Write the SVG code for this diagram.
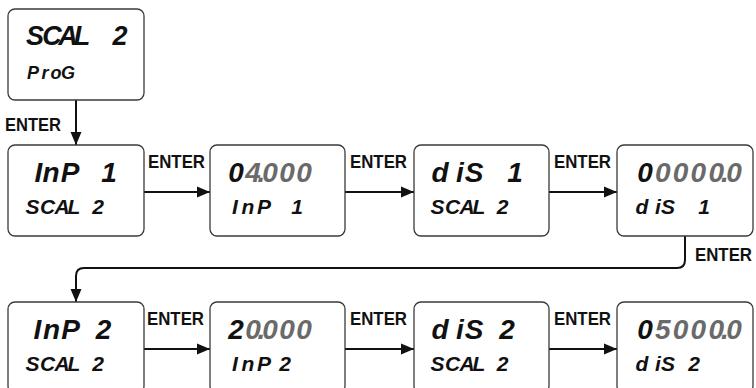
<svg xmlns="http://www.w3.org/2000/svg" width="756" height="388" viewBox="0 0 756 388">
<defs>
<style>
.box{fill:#fff;stroke:#3a3a3a;stroke-width:1.3}
.lcd{font-family:"Liberation Sans",Arial,sans-serif;font-weight:bold;font-style:italic;text-anchor:middle;fill:#111}
.l1{font-size:28px}
.l2{font-size:21px}
.g{fill:#6a6a6a}
.enter{font-family:"Liberation Sans",Arial,sans-serif;font-weight:bold;font-size:18px;fill:#111}
.conn{fill:none;stroke:#111;stroke-width:2;marker-end:url(#ah)}
</style>
<marker id="ah" markerUnits="userSpaceOnUse" markerWidth="14" markerHeight="12" refX="13" refY="6" orient="auto">
<path d="M0,0.5 L13,6 L0,11.5 z" fill="#111"/>
</marker>
</defs>
<rect width="756" height="388" fill="#fff"/>

<g id="connectors">
<path class="conn" d="M76 100 V145"/>
<path class="conn" d="M144 192 H210"/>
<path class="conn" d="M345 192 H414"/>
<path class="conn" d="M549 192 H617"/>
<path class="conn" d="M685 236 V260 Q685 268 677 268 H84 Q76 268 76 276 V302"/>
<path class="conn" d="M144 349 H210"/>
<path class="conn" d="M345 349 H414"/>
<path class="conn" d="M549 349 H617"/>
<text class="enter" x="5" y="131" textLength="56" lengthAdjust="spacingAndGlyphs">ENTER</text>
<text class="enter" x="148" y="168" textLength="57" lengthAdjust="spacingAndGlyphs">ENTER</text>
<text class="enter" x="350" y="168" textLength="57" lengthAdjust="spacingAndGlyphs">ENTER</text>
<text class="enter" x="554" y="168" textLength="57" lengthAdjust="spacingAndGlyphs">ENTER</text>
<text class="enter" x="695" y="261" textLength="57" lengthAdjust="spacingAndGlyphs">ENTER</text>
<text class="enter" x="147" y="325" textLength="57" lengthAdjust="spacingAndGlyphs">ENTER</text>
<text class="enter" x="350" y="325" textLength="57" lengthAdjust="spacingAndGlyphs">ENTER</text>
<text class="enter" x="554" y="325" textLength="57" lengthAdjust="spacingAndGlyphs">ENTER</text>
</g>

<g id="scal2-prog">
<rect class="box" x="8" y="9" width="136" height="91" rx="7"/>
<text class="lcd" style="font-size:27px" x="35 52 68 82 100 120" y="45">SCAL 2</text>
<text class="lcd" style="font-size:18px" x="33 45 56 68" y="79">ProG</text>
</g>

<g id="inp1-scal2">
<rect class="box" x="8" y="145" width="136" height="91" rx="7"/>
<text class="lcd l1" x="38.5 51 70 90 109" y="182">InP 1</text>
<text class="lcd l2" x="32.5 47.5 62 74 86 98" y="214">SCAL 2</text>
</g>

<g id="inp1-value">
<rect class="box" x="210" y="145" width="135" height="91" rx="7"/>
<text class="lcd l1" y="182"><tspan x="236">0</tspan><tspan class="g" x="253 261.5 270 287 304">4.000</tspan></text>
<text class="lcd l2" x="235 248 264 280 297" y="214">InP 1</text>
</g>

<g id="dis1-scal2">
<rect class="box" x="414" y="145" width="135" height="91" rx="7"/>
<text class="lcd l1" x="440 460 474 495 515" y="182">diS 1</text>
<text class="lcd l2" x="437.5 452.5 467 479 490 502.5" y="214">SCAL 2</text>
</g>

<g id="dis1-value">
<rect class="box" x="617" y="145" width="136" height="91" rx="7"/>
<text class="lcd l1" y="182"><tspan x="645">0</tspan><tspan class="g" x="662.8 680.6 698.4 716.2 725 734">0000.0</tspan></text>
<text class="lcd l2" x="642 658 668 686 704" y="214">diS 1</text>
</g>

<g id="inp2-scal2">
<rect class="box" x="8" y="302" width="136" height="91" rx="7"/>
<text class="lcd l1" x="37.5 51.5 70.5 87 103.5" y="339">InP 2</text>
<text class="lcd l2" x="32.5 47.5 62 74 86 98" y="371">SCAL 2</text>
</g>

<g id="inp2-value">
<rect class="box" x="210" y="302" width="135" height="91" rx="7"/>
<text class="lcd l1" y="339"><tspan x="236">2</tspan><tspan class="g" x="253 261.5 270 287 304">0.000</tspan></text>
<text class="lcd l2" x="235 248 264 274 285" y="371">InP 2</text>
</g>

<g id="dis2-scal2">
<rect class="box" x="414" y="302" width="135" height="91" rx="7"/>
<text class="lcd l1" x="440 460 474 490 507" y="339">diS 2</text>
<text class="lcd l2" x="437.5 452.5 467 479 490 502.5" y="371">SCAL 2</text>
</g>

<g id="dis2-value">
<rect class="box" x="617" y="302" width="136" height="91" rx="7"/>
<text class="lcd l1" y="339"><tspan x="645">0</tspan><tspan class="g" x="662.8 680.6 698.4 716.2 725 734">5000.0</tspan></text>
<text class="lcd l2" x="642 658 668 681 694" y="371">diS 2</text>
</g>
</svg>
